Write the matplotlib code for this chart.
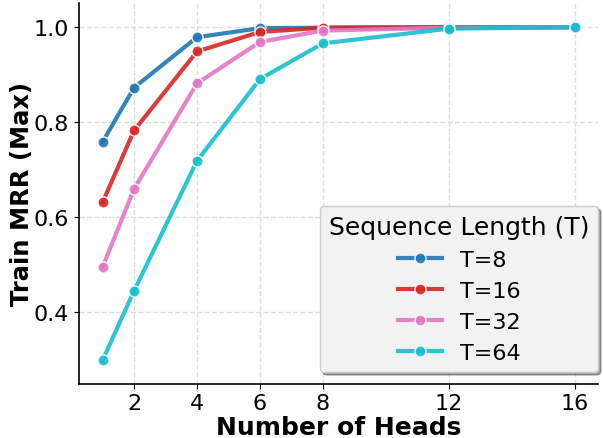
import matplotlib
matplotlib.use("Agg")
import matplotlib.pyplot as plt

# number of heads on the x axis
heads = [1, 2, 4, 6, 8, 12, 16]

# max train MRR per sequence length
mrr_t8 = [0.758, 0.872, 0.978, 0.997, 0.998, 0.999, 0.999]
mrr_t16 = [0.631, 0.782, 0.948, 0.989, 0.998, 0.999, 0.999]
mrr_t32 = [0.495, 0.659, 0.881, 0.968, 0.992, 0.998, 0.999]
mrr_t64 = [0.299, 0.445, 0.718, 0.890, 0.965, 0.996, 0.999]

series = [("T=8", mrr_t8, "#1f77b4"),
          ("T=16", mrr_t16, "#d62728"),
          ("T=32", mrr_t32, "#e377c2"),
          ("T=64", mrr_t64, "#17becf")]

fig = plt.figure(figsize=(6.03, 4.39), dpi=100)
ax = fig.add_axes([0.131, 0.124, 0.861, 0.867])

for label, vals, col in series:
    ax.plot(heads, vals, color=col, lw=3, marker="o", ms=8,
            mec="white", mew=1, alpha=0.9, label=label)

ax.set_xticks([2, 4, 6, 8, 12, 16])
ax.set_yticks([0.4, 0.6, 0.8, 1.0])
ax.set_ylim(0.25, 1.05)
ax.tick_params(labelsize=16)
ax.grid(True, ls="--", color="#dddddd", lw=1)
ax.set_axisbelow(True)
for s in ["top", "right"]:
    ax.spines[s].set_visible(False)
ax.spines["left"].set_linewidth(1.2)
ax.spines["bottom"].set_linewidth(1.2)

ax.set_xlabel("Number of Heads", fontsize=18, fontweight="bold", labelpad=1)
ax.set_ylabel("Train MRR (Max)", fontsize=17.5, fontweight="bold", labelpad=0)

leg = ax.legend(title="Sequence Length (T)", fontsize=16, title_fontsize=18,
                loc="lower right", bbox_to_anchor=(1.0, 0.03),
                frameon=True, shadow=True, fancybox=True,
                facecolor="#f2f2f2", edgecolor="#cccccc",
                borderaxespad=0)

fig.savefig("out.png", dpi=100)
